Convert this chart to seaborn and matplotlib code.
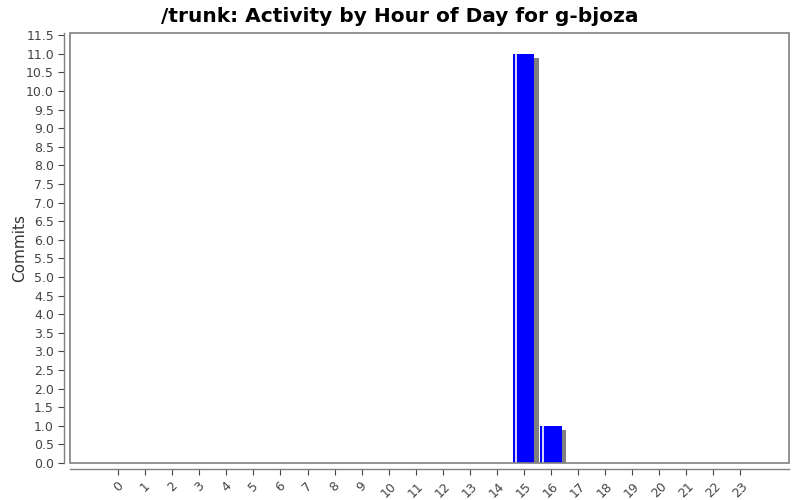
import matplotlib
matplotlib.use("Agg")
import matplotlib.pyplot as plt
import matplotlib.patheffects as pe
from matplotlib.patches import Rectangle
import pandas as pd
import seaborn as sns

# Data
hours = [str(h) for h in range(24)]
commits = [0, 0, 0, 0, 0, 0, 0, 0, 0, 0, 0, 0, 0, 0, 0, 11, 1, 0, 0, 0, 0, 0, 0, 0]
y_ticks = [i * 0.5 for i in range(24)]

title = "/trunk: Activity by Hour of Day for g-bjoza"

df = pd.DataFrame({"hour": hours, "commits": commits})

sns.set_style("white")
plt.rcParams["font.family"] = ["DejaVu Sans"]

fig = plt.figure(figsize=(8, 5), dpi=100)
ax = fig.add_axes([70 / 800, 37 / 500, 719 / 800, 430 / 500])

sns.barplot(data=df, x="hour", y="commits", color="#0000ff", saturation=1,
            width=0.78, ax=ax, order=hours)

# shadow + white highlight like the original chart
for p in ax.patches:
    p.set_edgecolor("none")
    p.set_path_effects([pe.SimplePatchShadow(offset=(3, -3), shadow_rgbFace="#808080", alpha=1.0),
                        pe.Normal()])
    if p.get_height() > 0:
        ax.plot([p.get_x() + 0.09] * 2, [0, p.get_height()], color="white", lw=1.2, zorder=5)

ax.set_xlim(-1.78, 24.8)
ax.set_ylim(0, 11.56)
ax.set_yticks(y_ticks)
ax.set_yticklabels([f"{v:.1f}" for v in y_ticks])
ax.set_xticks(range(len(hours)))
ax.set_xticklabels(hours)

ax.set_xlabel("")
ax.set_ylabel("Commits", fontsize=11, color="#333333")
ax.yaxis.set_label_coords(-0.06, 0.5)
ax.tick_params(axis="y", labelsize=9, colors="#444444", length=4, width=0.8, direction="out", left=True)
ax.tick_params(axis="x", labelsize=9, colors="#444444", length=4, width=0.8, direction="out",
               bottom=True, pad=4, labelrotation=45)
for lbl in ax.get_xticklabels():
    lbl.set_ha("center")
    lbl.set_va("top")

# plot area outline
ax.add_patch(Rectangle((0, 0), 1, 1, transform=ax.transAxes, fill=False,
                       edgecolor="#808080", lw=1.2, zorder=6, clip_on=False))
for s in ["top", "right"]:
    ax.spines[s].set_visible(False)
for s in ["left", "bottom"]:
    ax.spines[s].set_position(("outward", 4))
    ax.spines[s].set_color("#808080")
    ax.spines[s].set_linewidth(1.0)

fig.suptitle(title, fontsize=14.5, fontweight="bold", color="black", y=0.985)

fig.savefig("out.png", dpi=100)
